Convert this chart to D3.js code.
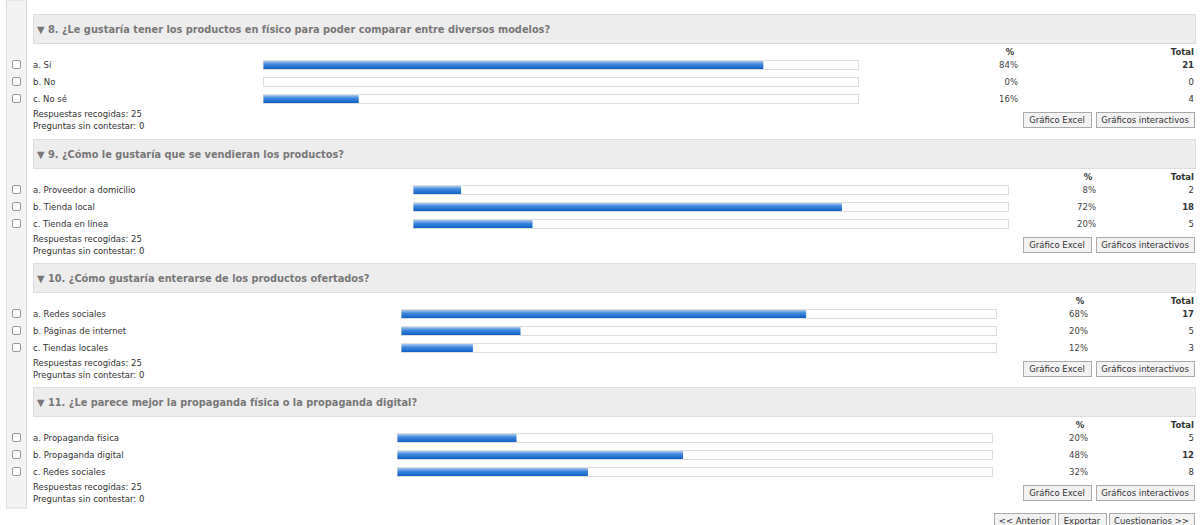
<!DOCTYPE html>
<html>
<head>
<meta charset="utf-8">
<script src="https://cdn.jsdelivr.net/npm/d3@7"></script>
<style>
  body { margin: 0; background: #fff; }
  svg text { font-family: "DejaVu Sans", Verdana, sans-serif; }
</style>
</head>
<body>
<div id="chart"></div>
<script>
// datos de las preguntas
var titulos = [
  "▼ 8. ¿Le gustaría tener los productos en físico para poder comparar entre diversos modelos?",
  "▼ 9. ¿Cómo le gustaría que se vendieran los productos?",
  "▼ 10. ¿Cómo gustaría enterarse de los productos ofertados?",
  "▼ 11. ¿Le parece mejor la propaganda física o la propaganda digital?"
];
var opciones = [
  ["a. Sí", "b. No", "c. No sé"],
  ["a. Proveedor a domicilio", "b. Tienda local", "c. Tienda en línea"],
  ["a. Redes sociales", "b. Páginas de internet", "c. Tiendas locales"],
  ["a. Propaganda física", "b. Propaganda digital", "c. Redes sociales"]
];
var porcentajes = [
  [84, 0, 16],
  [8, 72, 20],
  [68, 20, 12],
  [20, 48, 32]
];
var totales = [
  [21, 0, 4],
  [2, 18, 5],
  [17, 5, 3],
  [5, 12, 8]
];
var recogidas = [25, 25, 25, 25];
var sinContestar = [0, 0, 0, 0];
var botones = ["Gráfico Excel", "Gráficos interactivos"];
var navegacion = ["<< Anterior", "Exportar", "Cuestionarios >>"];

// posiciones de cada bloque (inicio de barra y columna %)
var inicio_barra = [263, 413, 401, 397];
var col_pct = [1018, 1096, 1088, 1088];
var ancho_barra = 595;
var top_bloque = [14, 139, 263, 387];

var W = 1204, H = 525;
var svg = d3.select("#chart").append("svg")
  .attr("width", W)
  .attr("height", H);

var defs = svg.append("defs");
var grad = defs.append("linearGradient")
  .attr("id", "azul")
  .attr("x1", 0).attr("y1", 0).attr("x2", 0).attr("y2", 1);
grad.append("stop").attr("offset", "0%").attr("stop-color", "#a9c9f0");
grad.append("stop").attr("offset", "40%").attr("stop-color", "#3f88dc");
grad.append("stop").attr("offset", "100%").attr("stop-color", "#1060c6");

// franja gris de la izquierda
svg.append("rect")
  .attr("x", 6.5).attr("y", 0)
  .attr("width", 20).attr("height", 508)
  .attr("fill", "#f3f3f3")
  .attr("stroke", "#dcdcdc");

// filas
var y = d3.scalePoint().domain([0, 1, 2]).range([51, 85]);

titulos.forEach(function (titulo, q) {
  var t = top_bloque[q];
  var g = svg.append("g").attr("transform", "translate(0," + t + ")");

  g.append("rect")
    .attr("x", 33.5).attr("y", 0.5)
    .attr("width", 1162).attr("height", 29)
    .attr("fill", "#eeeded")
    .attr("stroke", "#dddddd");

  g.append("text")
    .attr("x", 37).attr("y", 19)
    .style("font-size", "9.8px")
    .style("font-weight", "bold")
    .style("fill", "#777")
    .text(titulo);

  var x = d3.scaleLinear()
    .domain([0, 100])
    .range([inicio_barra[q], inicio_barra[q] + ancho_barra]);

  g.append("text")
    .attr("x", col_pct[q] - 8).attr("y", 41)
    .attr("text-anchor", "middle")
    .style("font-size", "8.5px").style("font-weight", "bold").style("fill", "#333")
    .text("%");
  g.append("text")
    .attr("x", 1194).attr("y", 41)
    .attr("text-anchor", "end")
    .style("font-size", "8.5px").style("font-weight", "bold").style("fill", "#333")
    .text("Total");

  var maxTotal = d3.max(totales[q]);

  var filas = g.selectAll(".fila")
    .data(opciones[q])
    .enter().append("g")
    .attr("class", "fila")
    .attr("transform", function (d, i) { return "translate(0," + y(i) + ")"; });

  filas.append("rect")
    .attr("x", 12.5).attr("y", -4.5)
    .attr("width", 8).attr("height", 8)
    .attr("rx", 1.5)
    .attr("fill", "#fff")
    .attr("stroke", "#999");

  filas.append("text")
    .attr("x", 33).attr("y", 3)
    .style("font-size", "8.5px").style("fill", "#333")
    .text(function (d) { return d; });

  // fondo de la barra
  filas.append("rect")
    .attr("x", x(0) + 0.5).attr("y", -4.5)
    .attr("width", x(100) - x(0)).attr("height", 9)
    .attr("fill", "#fff")
    .attr("stroke", "#dddddd");

  // barra
  filas.append("rect")
    .attr("x", x(0) + 0.5).attr("y", -4)
    .attr("width", function (d, i) { return x(porcentajes[q][i]) - x(0); })
    .attr("height", 8)
    .attr("fill", "url(#azul)");

  filas.append("text")
    .attr("x", col_pct[q]).attr("y", 3)
    .attr("text-anchor", "end")
    .style("font-size", "8.5px").style("fill", "#444")
    .text(function (d, i) { return porcentajes[q][i] + "%"; });

  filas.append("text")
    .attr("x", 1194).attr("y", 3)
    .attr("text-anchor", "end")
    .style("font-size", "8.5px")
    .style("font-weight", function (d, i) { return totales[q][i] === maxTotal ? "bold" : "normal"; })
    .style("fill", "#333")
    .text(function (d, i) { return totales[q][i]; });

  g.append("text")
    .attr("x", 33).attr("y", 103)
    .style("font-size", "8.5px").style("fill", "#333")
    .text("Respuestas recogidas: " + recogidas[q]);
  g.append("text")
    .attr("x", 33).attr("y", 115)
    .style("font-size", "8.5px").style("fill", "#333")
    .text("Preguntas sin contestar: " + sinContestar[q]);

  // botones
  var bx = [1023, 1096], bw = [68, 98];
  botones.forEach(function (b, k) {
    g.append("rect")
      .attr("x", bx[k] + 0.5).attr("y", 98.5)
      .attr("width", bw[k]).attr("height", 15)
      .attr("fill", "#f2f2f2")
      .attr("stroke", "#aaa");
    g.append("text")
      .attr("x", bx[k] + bw[k] / 2).attr("y", 109)
      .attr("text-anchor", "middle")
      .style("font-size", "8.5px").style("fill", "#333")
      .text(b);
  });
});

// navegacion inferior
var nx = [994, 1058, 1109], nw = [61, 48, 85];
navegacion.forEach(function (n, k) {
  svg.append("rect")
    .attr("x", nx[k] + 0.5).attr("y", 513.5)
    .attr("width", nw[k]).attr("height", 15)
    .attr("fill", "#f2f2f2")
    .attr("stroke", "#aaa");
  svg.append("text")
    .attr("x", nx[k] + nw[k] / 2).attr("y", 524)
    .attr("text-anchor", "middle")
    .style("font-size", "8.5px").style("fill", "#333")
    .text(n);
});
</script>
</body>
</html>
